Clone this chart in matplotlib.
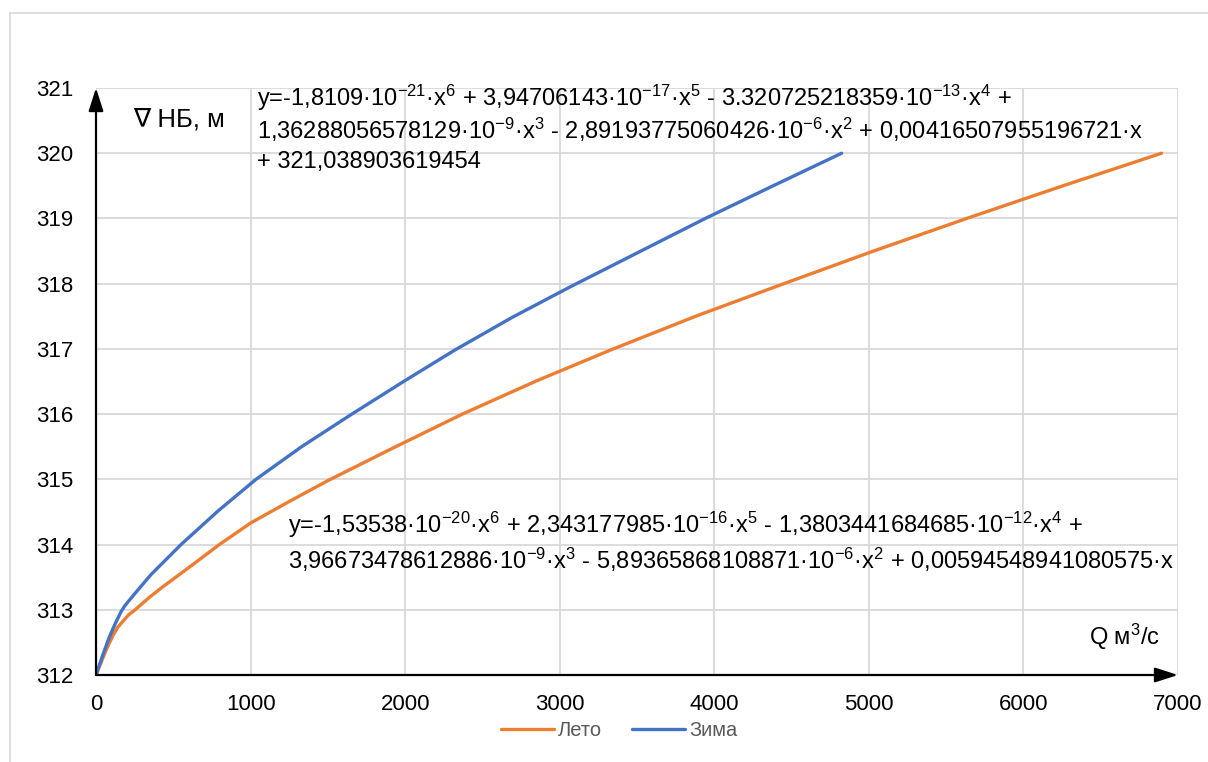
import matplotlib
matplotlib.use("Agg")
import matplotlib.pyplot as plt
from matplotlib.lines import Line2D

plt.rcParams['font.family'] = ['Liberation Sans', 'DejaVu Sans']
plt.rcParams['mathtext.fontset'] = 'custom'
plt.rcParams['mathtext.rm'] = 'Liberation Sans'
plt.rcParams['mathtext.default'] = 'regular'

# Зима (winter) curve
q_winter = [0, 43, 86, 125, 162, 186, 210, 259, 356, 550, 792, 1035, 1330, 1655, 1990,
            2320, 2690, 3067, 3500, 3942, 4380, 4824]
h_winter = [312.0, 312.3, 312.58, 312.79, 312.97, 313.06, 313.13, 313.27, 313.54, 314.0,
            314.52, 315.0, 315.5, 316.0, 316.5, 316.98, 317.48, 317.95, 318.47, 319.0,
            319.5, 320.0]

# Лето (summer) curve
q_summer = [0, 65, 108, 140, 173, 210, 248, 345, 431, 539, 647, 798, 1000, 1250, 1500,
            1930, 2370, 2850, 3347, 3890, 4450, 5030, 5633, 6255, 6894]
h_summer = [312.0, 312.38, 312.6, 312.73, 312.82, 312.92, 312.99, 313.19, 313.35, 313.54,
            313.73, 314.0, 314.33, 314.66, 314.98, 315.49, 316.0, 316.51, 317.0, 317.51,
            318.0, 318.5, 319.0, 319.5, 320.0]

x_ticks = [0, 1000, 2000, 3000, 4000, 5000, 6000, 7000]
y_ticks = [312, 313, 314, 315, 316, 317, 318, 319, 320, 321]

eq_winter = [
    "y=-1,8109·10$^{-21}$·x$^{6}$ + 3,94706143·10$^{-17}$·x$^{5}$ - 3.320725218359·10$^{-13}$·x$^{4}$ +",
    "1,36288056578129·10$^{-9}$·x$^{3}$ - 2,89193775060426·10$^{-6}$·x$^{2}$ + 0,00416507955196721·x",
    "+ 321,038903619454",
]
eq_summer = [
    "y=-1,53538·10$^{-20}$·x$^{6}$ + 2,343177985·10$^{-16}$·x$^{5}$ - 1,3803441684685·10$^{-12}$·x$^{4}$ +",
    "3,96673478612886·10$^{-9}$·x$^{3}$ - 5,89365868108871·10$^{-6}$·x$^{2}$ + 0,00594548941080575·x",
]

ORANGE = '#ED7D31'
BLUE = '#4472C4'
GRID = '#D9D9D9'
FS_TICK = 16
FS_EQ = 17

fig = plt.figure(figsize=(12.08, 7.62), dpi=100)
ax = fig.add_axes([96 / 1208, 1 - 675 / 762, 1082 / 1208, 587 / 762])

# chart area border (only left and top edges visible)
fig.add_artist(Line2D([9.5 / 1208, 9.5 / 1208], [0, 1 - 13 / 762], color=GRID, lw=1.2))
fig.add_artist(Line2D([9.5 / 1208, 1], [1 - 13 / 762, 1 - 13 / 762], color=GRID, lw=1.2))

ax.plot(q_summer, h_summer, color=ORANGE, lw=2.4, label='Лето', solid_capstyle='round',
        solid_joinstyle='round')
ax.plot(q_winter, h_winter, color=BLUE, lw=2.4, label='Зима', solid_capstyle='round',
        solid_joinstyle='round')

ax.set_xlim(0, 7000)
ax.set_ylim(312, 321)
ax.set_xticks(x_ticks)
ax.set_yticks(y_ticks)
ax.grid(True, color=GRID, lw=1.3)
ax.set_axisbelow(True)
for s in ax.spines.values():
    s.set_visible(False)
ax.tick_params(length=0, labelsize=FS_TICK, colors='black')
ax.tick_params(axis='x', pad=14)
ax.tick_params(axis='y', pad=16.5)

# axis arrows
arrow = dict(arrowstyle='-|>,head_length=1.4,head_width=0.45', color='black', lw=1.6,
             shrinkA=0, shrinkB=0)
ax.annotate('', xy=(0, 1), xytext=(0, 0), xycoords='axes fraction', arrowprops=arrow,
            annotation_clip=False)
ax.annotate('', xy=(1, 0), xytext=(0, 0), xycoords='axes fraction', arrowprops=arrow,
            annotation_clip=False)

ax.text(37 / 1082, 1 - 32 / 587, '∇ НБ, м', transform=ax.transAxes, fontsize=18.5,
        ha='left', va='center')
ax.text(1 - 18 / 1082, 38 / 587, 'Q м$^{3}$/с', transform=ax.transAxes, fontsize=17,
        ha='right', va='center')

for i, line in enumerate(eq_winter):
    ax.text(161 / 1082, 1 - (10 + 32 * i) / 587, line, transform=ax.transAxes,
            fontsize=FS_EQ, ha='left', va='center')
for i, line in enumerate(eq_summer):
    ax.text(192 / 1082, (675 - 525 - 35 * i) / 587, line, transform=ax.transAxes,
            fontsize=FS_EQ, ha='left', va='center')

leg = fig.legend(loc='center', bbox_to_anchor=(619 / 1208, 1 - 731 / 762), ncol=2,
                 frameon=False, fontsize=14.5, handlelength=2.63, handletextpad=0.2,
                 columnspacing=1.5)
for t in leg.get_texts():
    t.set_color('#595959')

fig.savefig('out.png', dpi=100)
